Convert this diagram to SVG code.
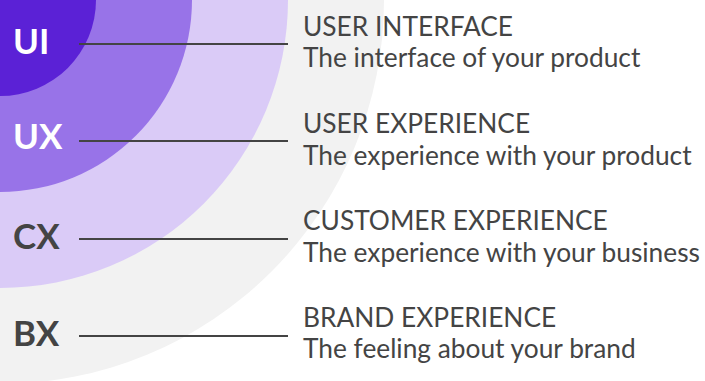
<svg xmlns="http://www.w3.org/2000/svg" width="705" height="381" viewBox="0 0 705 381">
  <style>
    .ring-label { font-family: Lato, "Liberation Sans", sans-serif; font-weight: 700; font-size: 35px; }
    .light { fill: #ffffff; }
    .dark { fill: #444444; }
    .title { font-family: Lato, "Liberation Sans", sans-serif; font-size: 26.3px; fill: #444444; }
    .desc { font-family: Lato, "Liberation Sans", sans-serif; font-size: 26.3px; fill: #444444; }
    .leader { stroke: #444444; stroke-width: 2; fill: none; }
  </style>
  <rect width="705" height="381" fill="#ffffff"/>

  <!-- concentric layers, anchored at the top-left corner -->
  <g id="rings">
    <circle id="ring-bx" cx="0" cy="0" r="384" fill="#f2f2f2"/>
    <circle id="ring-cx" cx="0" cy="0" r="288" fill="#dacbf7"/>
    <circle id="ring-ux" cx="0" cy="0" r="192" fill="#9873e8"/>
    <circle id="ring-ui" cx="0" cy="0" r="96" fill="#5b21d6"/>
  </g>

  <!-- leader lines from layer labels to descriptions -->
  <g id="connectors">
    <line class="leader" x1="79" y1="44" x2="288" y2="44"/>
    <line class="leader" x1="79" y1="141" x2="288" y2="141"/>
    <line class="leader" x1="79" y1="239" x2="288" y2="239"/>
    <line class="leader" x1="79" y1="336" x2="288" y2="336"/>
  </g>

  <g id="node-ui">
    <text class="ring-label light" x="13" y="54">UI</text>
    <text class="title" x="303" y="36">USER INTERFACE</text>
    <text class="desc" x="303" y="67">The interface of your product</text>
  </g>

  <g id="node-ux">
    <text class="ring-label light" x="13" y="149">UX</text>
    <text class="title" x="303" y="133">USER EXPERIENCE</text>
    <text class="desc" x="303" y="164.5">The experience with your product</text>
  </g>

  <g id="node-cx">
    <text class="ring-label dark" x="13" y="249">CX</text>
    <text class="title" x="303" y="230">CUSTOMER EXPERIENCE</text>
    <text class="desc" x="303" y="261.5">The experience with your business</text>
  </g>

  <g id="node-bx">
    <text class="ring-label dark" x="13" y="346">BX</text>
    <text class="title" x="303" y="327">BRAND EXPERIENCE</text>
    <text class="desc" x="303" y="358">The feeling about your brand</text>
  </g>
</svg>
